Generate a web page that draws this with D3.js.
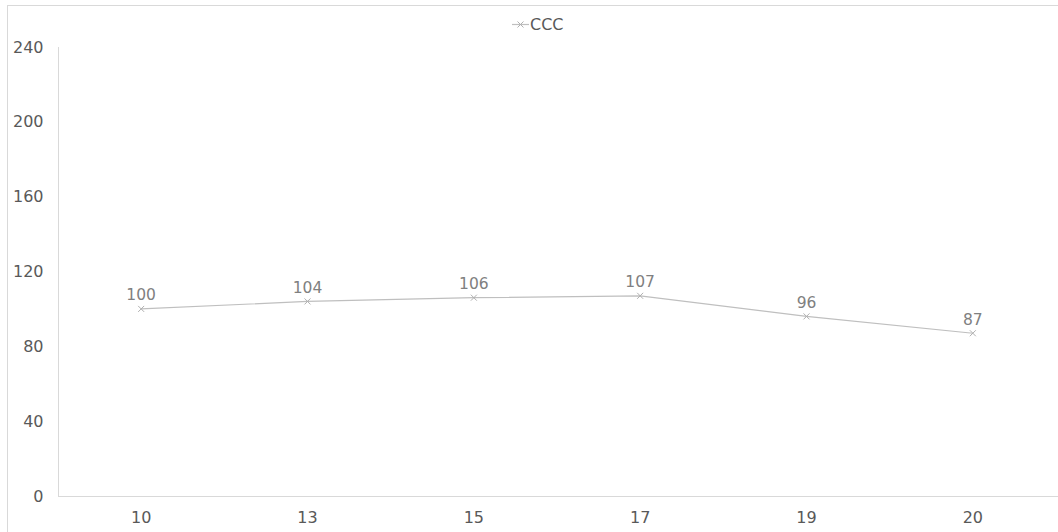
<!DOCTYPE html>
<html><head><meta charset="utf-8">
<script src="https://cdn.jsdelivr.net/npm/d3@7"></script>
<style>html,body{margin:0;padding:0;background:#fff;}svg{display:block;}</style>
</head><body>
<script>
const categories = ["10","13","15","17","19","20"];
const seriesName = "CCC";
const values = [100,104,106,107,96,87];
const yTicks = [0,40,80,120,160,200,240];

const W=1058,H=532;
const svg=d3.select("body").append("svg").attr("width",W).attr("height",H);
const font="DejaVu Sans, Verdana, sans-serif";
// chart border
svg.append("rect").attr("x",7.5).attr("y",5.5).attr("width",W).attr("height",H).attr("fill","none").attr("stroke","#d9d9d9");

const x=d3.scaleBand().domain(categories).range([58,1056]);
const y=d3.scaleLinear().domain([0,240]).range([496,47]);

// y axis
const ya=svg.append("g").attr("transform","translate(58.5,0)").call(d3.axisLeft(y).tickValues(yTicks).tickSize(0).tickPadding(15));
ya.select(".domain").attr("stroke","#d9d9d9").attr("d","M0,"+y(240)+"V"+(y(0)+0.5));
ya.selectAll("text").attr("font-family",font).attr("font-size",16).attr("fill","#595959").attr("text-anchor","end");

// x axis
const xa=svg.append("g").attr("transform","translate(0,496.5)").call(d3.axisBottom(x).tickSize(0).tickPadding(15));
xa.select(".domain").attr("stroke","#d9d9d9").attr("d","M58,0H1058");
xa.selectAll("text").attr("font-family",font).attr("font-size",16).attr("fill","#595959");

const cx=c=>x(c)+x.bandwidth()/2;
const pts=categories.map((c,i)=>[cx(c),y(values[i])]);
svg.append("path").attr("d",d3.line()(pts)).attr("fill","none").attr("stroke","#bfbfbf").attr("stroke-width",1.2);

const mk=svg.append("g");
pts.forEach(p=>{
  mk.append("path").attr("d",`M${p[0]-3},${p[1]-3}L${p[0]+3},${p[1]+3}M${p[0]-3},${p[1]+3}L${p[0]+3},${p[1]-3}`).attr("stroke","#b0b0b0").attr("stroke-width",1);
});
svg.append("g").selectAll("text").data(categories).join("text")
  .attr("x",c=>cx(c)).attr("y",(c,i)=>y(values[i])-8.5)
  .attr("text-anchor","middle").attr("font-family",font).attr("font-size",15.5).attr("fill","#808080")
  .text((c,i)=>values[i]);

// legend
const lg=svg.append("g");
lg.append("line").attr("x1",512).attr("x2",529).attr("y1",24.5).attr("y2",24.5).attr("stroke","#bfbfbf").attr("stroke-width",1.2);
lg.append("path").attr("d","M517.5,21.5L523.5,27.5M517.5,27.5L523.5,21.5").attr("stroke","#b0b0b0");
lg.append("text").attr("x",530).attr("y",30).attr("font-family",font).attr("font-size",16).attr("fill","#595959").text(seriesName);
</script>
</body></html>
